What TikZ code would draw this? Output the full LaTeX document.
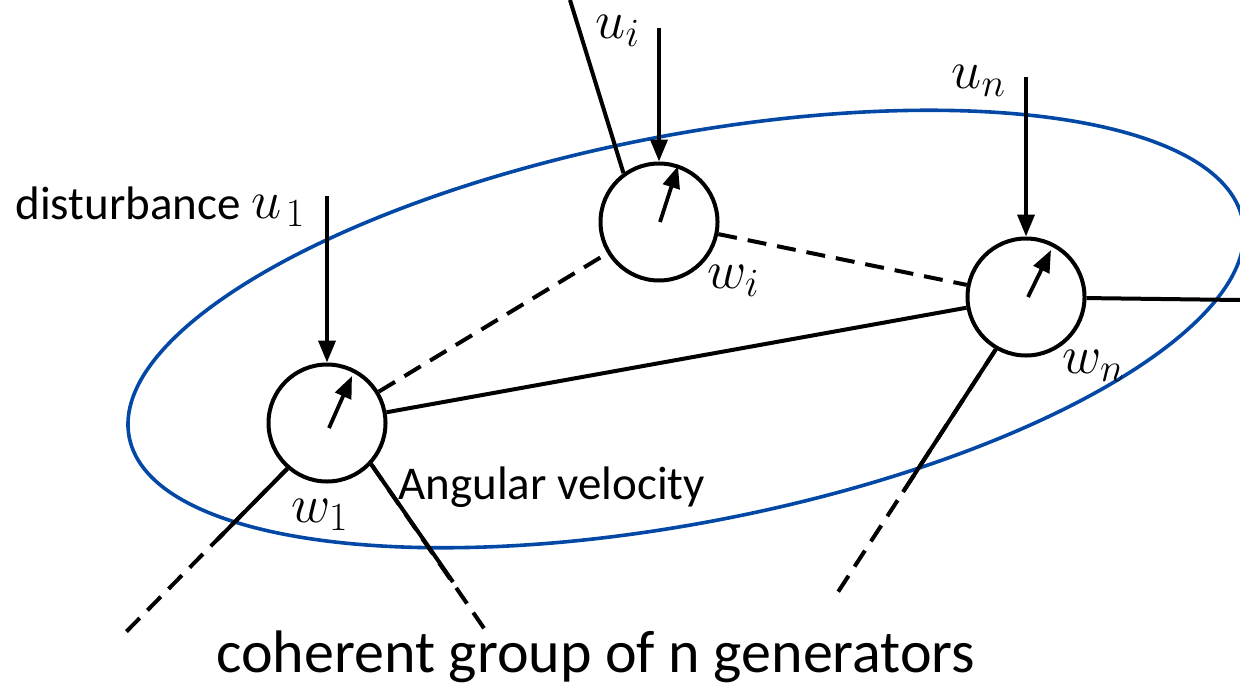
\documentclass[tikz,border=0pt]{standalone}
\usepackage{fix-cm}
\usepackage[no-math]{fontspec}
\setmainfont{Carlito}
\usetikzlibrary{arrows.meta}
\DeclareMathSizes{27}{27}{20}{15}
\definecolor{ellblue}{RGB}{4,72,166}
\tikzset{
  gen/.style={circle,draw=black,line width=2pt,minimum size=58.5pt,inner sep=0pt,fill=white},
  link/.style={line width=2pt},
  dlink/.style={line width=2pt,dash pattern=on 9.5pt off 5.5pt},
  tip/.style={line width=1.9pt,-{Triangle[length=11pt,width=8.5pt]}},
  inner/.style={line width=1.9pt,-{Triangle[length=11pt,width=8.5pt]}},
  txt/.style={font=\fontsize{23.5pt}{26pt}\selectfont,inner sep=0pt},
  mth/.style={font=\fontsize{27}{30}\selectfont,inner sep=0pt},
}
\begin{document}
\begin{tikzpicture}[x=0.5pt,y=-0.5pt]
\useasboundingbox (0,0) rectangle (1240,696);
% ellipse
\coordinate (ec) at (686,329);
\draw[ellblue,line width=1.8pt,rotate around={11:(ec)}] (ec) ellipse [x radius=283.6pt,y radius=96.8pt];
% generators
\node[gen] (c1) at (327,423) {};
\node[gen] (ci) at (659,222) {};
\node[gen] (cn) at (1026,297) {};
% links between generators
\draw[link] (c1) -- (cn);
\draw[dlink] (c1) -- (ci);
\draw[dlink] (ci) -- (cn);
% outgoing lines
\coordinate (top) at (570,0);
\draw[link] (ci.126) -- (top);
\coordinate (re) at (1240,300);
\draw[link] (cn.-1) -- (re);
\coordinate (l1e) at (123,635);
\coordinate (l1m) at (217,540);
\draw[dlink] (c1.229) -- (l1e);
\draw[link] (c1.229) -- (l1m);
\coordinate (r1e) at (490,637);
\coordinate (r1m) at (453,582);
\draw[dlink] (c1.317) -- (r1e);
\draw[link] (c1.317) -- (r1m);
\coordinate (dne) at (838,592);
\coordinate (dnm) at (903,492);
\draw[dlink] (cn.240) -- (dne);
\draw[link] (cn.240) -- (dnm);
% inner arrows
\coordinate (p1a) at (329,428);
\coordinate (p1b) at (352,376);
\draw[inner] (p1a) -- (p1b);
\coordinate (pia) at (660,222);
\coordinate (pib) at (678,166);
\draw[inner] (pia) -- (pib);
\coordinate (pna) at (1028,297);
\coordinate (pnb) at (1051,250);
\draw[inner] (pna) -- (pnb);
% input arrows
\coordinate (a1) at (327,196);
\draw[tip] (a1) -- (c1.north);
\coordinate (ai) at (659,28);
\draw[tip] (ai) -- (ci.north);
\coordinate (an) at (1026,77);
\draw[tip] (an) -- (cn.north);
% labels
\node[txt,anchor=base west] (dist) at (15,219) {disturbance};
\node[mth,anchor=base west] (lu1) at (251,218) {$u_{\mkern2mu 1}$};
\node[mth,anchor=base west] (lui) at (595,38) {$u_i$};
\node[mth,anchor=base west] (lun) at (951,88) {$u_n$};
\node[mth,anchor=base west] (lwi) at (707,288) {$w_i$};
\node[mth,anchor=base west] (lwn) at (1062,373) {$w_n$};
\node[mth,anchor=base west] (lw1) at (291,522) {$w_1$};
\node[txt,anchor=base west] (ang) at (398,499) {Angular velocity};
\node[font=\fontsize{30pt}{32pt}\selectfont,inner sep=0pt,anchor=base west] (cap) at (216,672) {coherent group of n generators};
\end{tikzpicture}
\end{document}
